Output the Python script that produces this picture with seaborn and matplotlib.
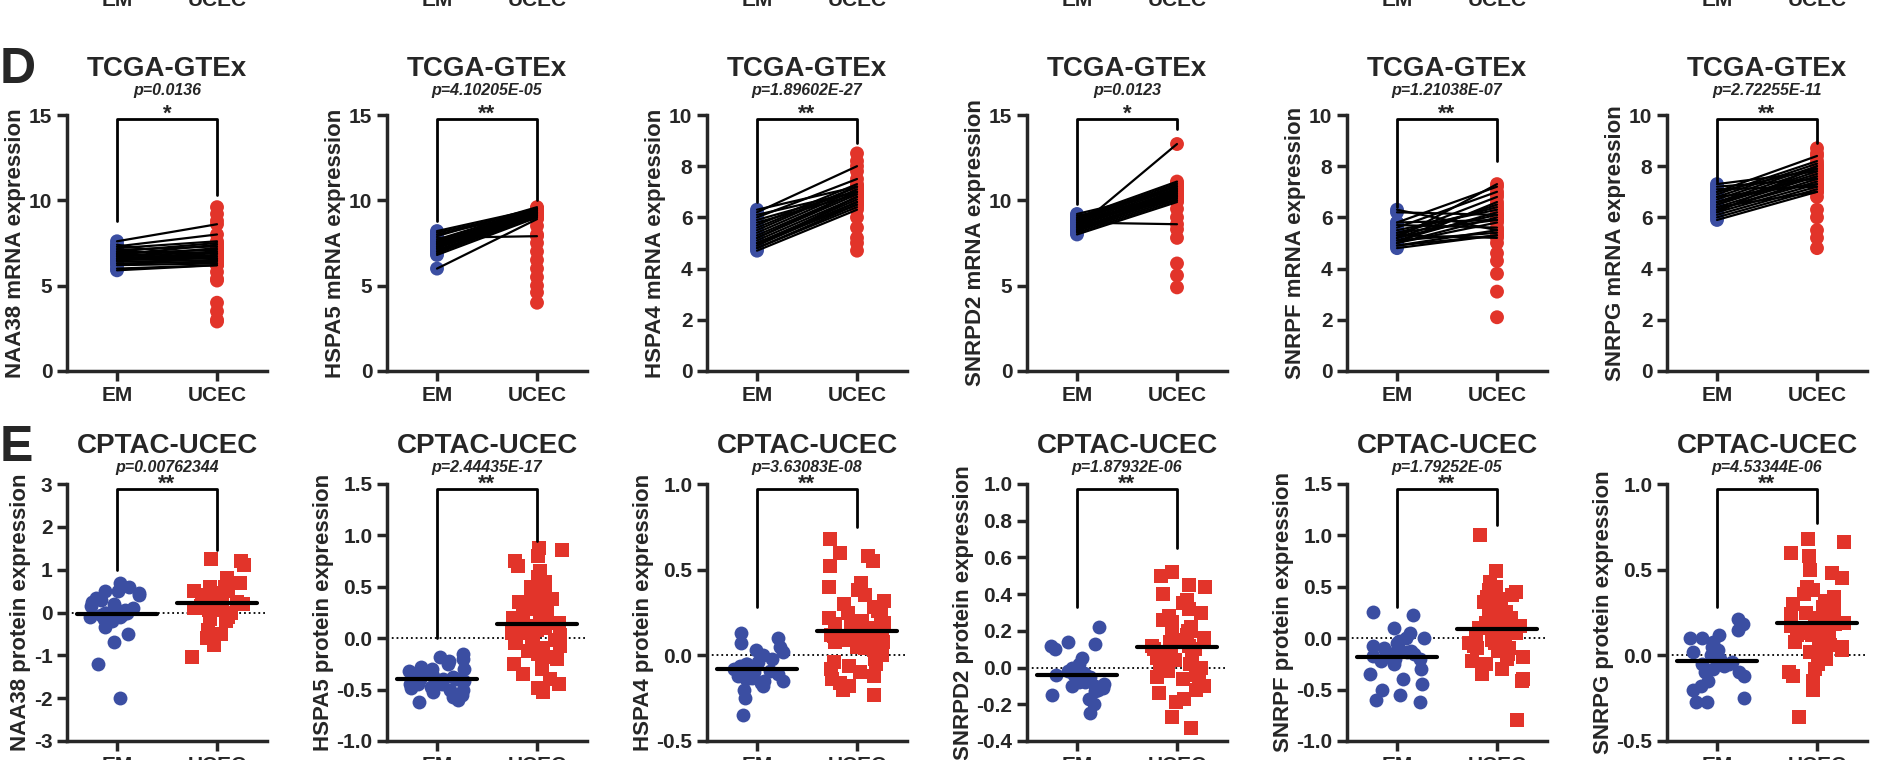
import numpy as np
import pandas as pd
import matplotlib
matplotlib.use('Agg')
import matplotlib.pyplot as plt
import seaborn as sns

sns.set_style('ticks')
plt.rcParams['font.family'] = ['Liberation Sans', 'DejaVu Sans']
plt.rcParams['font.weight'] = 'bold'

BLUE = '#3b4ea2'
RED = '#e2342a'
groups = ['EM', 'UCEC']
genes = ['NAA38', 'HSPA5', 'HSPA4', 'SNRPD2', 'SNRPF', 'SNRPG']

# ---- row D: TCGA-GTEx paired mRNA ----
d_pvals = ['p=0.0136', 'p=4.10205E-05', 'p=1.89602E-27', 'p=0.0123', 'p=1.21038E-07', 'p=2.72255E-11']
d_stars = ['*', '**', '**', '*', '**', '**']
d_ymax = [15, 15, 10, 15, 10, 10]
d_ticks = [[0, 5, 10, 15], [0, 5, 10, 15], [0, 2, 4, 6, 8, 10], [0, 5, 10, 15], [0, 2, 4, 6, 8, 10], [0, 2, 4, 6, 8, 10]]
d_legs = [(8.8, 10.3), (8.8, 10.0), (6.6, 8.9), (9.8, 14.2), (6.4, 8.2), (7.4, 8.9)]

d_em = [
    [6.0, 6.2, 6.3, 6.4, 6.5, 6.5, 6.6, 6.6, 6.7, 6.7, 6.8, 6.8, 6.9, 6.9, 7.0, 7.0, 7.1, 7.2, 7.3, 7.4, 7.6, 5.9],
    [6.0, 6.8, 6.9, 7.0, 7.1, 7.2, 7.2, 7.3, 7.4, 7.4, 7.5, 7.5, 7.6, 7.7, 7.8, 7.9, 8.0, 8.1, 8.2, 7.0, 7.3, 7.6],
    [4.7, 4.8, 4.8, 4.9, 5.0, 5.0, 5.1, 5.2, 5.2, 5.3, 5.4, 5.5, 5.6, 5.7, 5.8, 5.9, 6.0, 6.1, 6.2, 6.3, 5.0, 4.9],
    [8.0, 8.1, 8.2, 8.3, 8.3, 8.4, 8.5, 8.5, 8.6, 8.6, 8.7, 8.8, 8.8, 8.9, 9.0, 9.1, 9.2, 8.4, 8.7, 8.2, 9.0, 8.9],
    [4.8, 4.9, 5.0, 5.0, 5.1, 5.1, 5.2, 5.2, 5.3, 5.3, 5.4, 5.5, 5.6, 5.7, 5.8, 6.2, 6.3, 5.0, 4.9, 5.2, 5.4, 5.8],
    [5.9, 6.0, 6.1, 6.2, 6.3, 6.3, 6.4, 6.5, 6.5, 6.6, 6.7, 6.8, 6.9, 7.0, 7.1, 7.2, 7.3, 6.4, 6.6, 6.2, 6.8, 7.0],
]
d_uc = [
    [6.2, 6.3, 6.4, 6.5, 6.6, 6.8, 6.9, 6.7, 7.0, 7.2, 6.6, 7.4, 7.1, 6.3, 7.5, 6.9, 7.3, 7.6, 8.0, 6.5, 8.6, 6.2],
    [8.9, 9.0, 9.1, 9.2, 9.0, 9.3, 9.1, 9.2, 9.4, 9.3, 9.5, 9.2, 9.4, 9.5, 7.9, 9.6, 9.3, 9.4, 9.5, 9.1, 9.2, 9.3],
    [6.3, 6.4, 6.5, 6.6, 6.6, 6.7, 6.8, 6.9, 7.0, 7.0, 7.1, 7.2, 7.2, 7.3, 6.9, 7.0, 7.5, 7.0, 8.0, 7.2, 6.5, 6.8],
    [9.9, 10.0, 10.1, 10.2, 10.3, 10.3, 10.4, 10.5, 10.5, 10.6, 10.7, 10.8, 10.9, 11.0, 11.1, 10.2, 10.6, 13.3, 8.6, 10.4, 10.8, 10.0],
    [5.3, 5.5, 6.0, 5.8, 6.2, 5.4, 6.5, 6.1, 5.2, 6.8, 5.9, 6.3, 7.0, 5.6, 7.2, 6.1, 5.5, 6.6, 5.3, 7.3, 6.4, 5.9],
    [7.0, 7.1, 7.2, 7.3, 7.4, 7.5, 7.6, 7.7, 7.8, 7.9, 8.0, 8.1, 8.2, 8.4, 7.2, 7.5, 7.8, 7.0, 7.6, 8.0, 7.3, 7.9],
]
d_uc_extra = [
    [9.6, 9.2, 8.8, 5.8, 5.4, 5.3, 4.0, 3.5, 3.0, 2.9],
    [8.5, 8.0, 7.5, 7.0, 6.5, 6.0, 5.5, 5.0, 4.6, 4.0],
    [8.5, 8.2, 7.8, 6.0, 5.6, 5.2, 5.0, 4.7],
    [9.5, 9.0, 8.3, 7.8, 6.3, 5.6, 4.9],
    [6.9, 5.0, 4.6, 4.3, 3.8, 3.1, 2.1],
    [8.7, 8.5, 6.8, 6.3, 6.0, 5.5, 5.2, 4.8],
]

# ---- row E: CPTAC-UCEC protein ----
e_pvals = ['p=0.00762344', 'p=2.44435E-17', 'p=3.63083E-08', 'p=1.87932E-06', 'p=1.79252E-05', 'p=4.53344E-06']
e_ylim = [(-3, 3), (-1, 1.5), (-0.5, 1.0), (-0.4, 1.0), (-1, 1.5), (-0.5, 1.0)]
e_ticks = [[-3, -2, -1, 0, 1, 2, 3], [-1.0, -0.5, 0.0, 0.5, 1.0, 1.5], [-0.5, 0.0, 0.5, 1.0],
           [-0.4, -0.2, 0.0, 0.2, 0.4, 0.6, 0.8, 1.0], [-1.0, -0.5, 0.0, 0.5, 1.0, 1.5], [-0.5, 0.0, 0.5, 1.0]]
e_tickfmt = ['{:.0f}', '{:.1f}', '{:.1f}', '{:.1f}', '{:.1f}', '{:.1f}']
e_legs = [(1.0, 1.45), (0.0, 0.95), (0.28, 0.75), (0.33, 0.65), (0.3, 1.1), (0.28, 0.77)]

e_em = [
    [0.7, 0.6, 0.5, 0.5, 0.45, 0.4, 0.35, 0.3, 0.25, 0.2, 0.15, 0.1, 0.05, 0.0, 0.0, -0.05, -0.1, -0.1, -0.15, -0.2, -0.35, -0.5, -0.7, -1.2, -2.0, 0.1, 0.0, -0.05],
    [-0.15, -0.18, -0.2, -0.22, -0.25, -0.28, -0.3, -0.32, -0.35, -0.37, -0.38, -0.4, -0.4, -0.42, -0.43, -0.45, -0.45, -0.47, -0.48, -0.5, -0.52, -0.55, -0.57, -0.6, -0.62, -0.35, -0.4, -0.45, -0.5, -0.3],
    [0.13, 0.1, 0.07, 0.05, 0.03, 0.0, -0.02, -0.04, -0.05, -0.06, -0.08, -0.09, -0.1, -0.1, -0.11, -0.12, -0.13, -0.14, -0.15, -0.16, -0.18, -0.2, -0.25, -0.35, -0.05, -0.08, -0.12, 0.02, -0.15, -0.1],
    [0.22, 0.14, 0.13, 0.12, 0.1, 0.05, 0.02, 0.0, -0.02, -0.03, -0.04, -0.05, -0.06, -0.07, -0.08, -0.09, -0.1, -0.1, -0.12, -0.13, -0.15, -0.17, -0.2, -0.25, -0.05, -0.08, -0.04, -0.11],
    [0.25, 0.23, 0.1, 0.05, 0.0, -0.03, -0.05, -0.08, -0.1, -0.12, -0.13, -0.15, -0.15, -0.17, -0.18, -0.2, -0.22, -0.25, -0.3, -0.35, -0.4, -0.45, -0.5, -0.55, -0.62, -0.6, -0.1, -0.12, 0.0, -0.2],
    [0.21, 0.18, 0.15, 0.12, 0.1, 0.1, 0.08, 0.05, 0.03, 0.0, -0.02, -0.03, -0.04, -0.05, -0.06, -0.08, -0.1, -0.12, -0.15, -0.18, -0.2, -0.25, -0.27, -0.27, 0.02, -0.05, 0.0, -0.1],
]
e_uc = [
    [1.25, 1.2, 1.1, 0.8, 0.7, 0.7, 0.6, 0.5, 0.5, 0.45, 0.4, 0.4, 0.35, 0.3, 0.3, 0.3, 0.25, 0.25, 0.2, 0.2, 0.2, 0.15, 0.15, 0.1, 0.1, 0.1, 0.05, 0.05, 0.0, 0.0, -0.05, -0.1, -0.15, -0.2, -0.4, -0.5, -0.6, -0.75, -1.05, 0.3, 0.2, 0.1, 0.5, 0.6],
    [0.88, 0.86, 0.8, 0.75, 0.7, 0.65, 0.6, 0.55, 0.5, 0.45, 0.42, 0.4, 0.38, 0.35, 0.3, 0.28, 0.25, 0.22, 0.2, 0.18, 0.15, 0.12, 0.1, 0.1, 0.08, 0.05, 0.03, 0.0, -0.02, -0.05, -0.08, -0.1, -0.12, -0.15, -0.18, -0.2, -0.22, -0.25, -0.3, -0.35, -0.4, -0.45, -0.48, -0.52, 0.2, 0.1, 0.0, -0.1, 0.3, 0.15, 0.05, -0.05, 0.25, -0.15, 0.35],
    [0.68, 0.6, 0.58, 0.55, 0.52, 0.42, 0.4, 0.38, 0.35, 0.32, 0.3, 0.28, 0.26, 0.24, 0.22, 0.2, 0.19, 0.18, 0.16, 0.15, 0.14, 0.13, 0.12, 0.11, 0.1, 0.09, 0.08, 0.07, 0.06, 0.05, 0.04, 0.03, 0.02, 0.0, -0.02, -0.04, -0.06, -0.08, -0.1, -0.12, -0.14, -0.16, -0.18, -0.2, -0.23, 0.1, 0.15, 0.05, 0.2, 0.0, 0.12, 0.08, -0.05, 0.25, 0.18],
    [0.52, 0.5, 0.45, 0.44, 0.4, 0.37, 0.35, 0.32, 0.3, 0.28, 0.26, 0.24, 0.22, 0.2, 0.18, 0.16, 0.15, 0.14, 0.12, 0.1, 0.09, 0.08, 0.07, 0.06, 0.05, 0.04, 0.03, 0.02, 0.0, -0.02, -0.04, -0.06, -0.08, -0.1, -0.12, -0.14, -0.17, -0.19, -0.27, -0.33, 0.1, 0.15, 0.05, 0.2, 0.12, 0.08, 0.0, 0.25, -0.05, 0.18],
    [1.0, 0.65, 0.55, 0.5, 0.47, 0.45, 0.42, 0.4, 0.38, 0.35, 0.3, 0.28, 0.25, 0.22, 0.2, 0.18, 0.15, 0.12, 0.1, 0.08, 0.06, 0.05, 0.03, 0.0, -0.02, -0.05, -0.08, -0.1, -0.12, -0.15, -0.18, -0.2, -0.22, -0.25, -0.3, -0.35, -0.4, -0.42, -0.8, 0.1, 0.05, 0.0, 0.15, -0.05, 0.2, 0.3, -0.1, 0.12],
    [0.68, 0.66, 0.6, 0.58, 0.5, 0.48, 0.45, 0.4, 0.38, 0.36, 0.34, 0.32, 0.3, 0.28, 0.26, 0.24, 0.22, 0.2, 0.19, 0.18, 0.17, 0.16, 0.15, 0.14, 0.13, 0.12, 0.1, 0.08, 0.06, 0.05, 0.03, 0.02, 0.0, -0.02, -0.05, -0.08, -0.1, -0.12, -0.15, -0.2, -0.36, 0.15, 0.2, 0.1, 0.25, 0.12, 0.18, 0.05, 0.3, 0.22],
]

W, H = 1880, 760
fig = plt.figure(figsize=(W / 100, H / 100), dpi=100)
lefts = [67, 387, 707, 1027, 1347, 1667]
axw = 200


def px_axes(left, top, bottom):
    return fig.add_axes([left / W, 1 - bottom / H, axw / W, (bottom - top) / H])


def style(ax, ylabel):
    ax.set_xlim(-0.5, 1.5)
    sns.despine(ax=ax)
    for s in ['left', 'bottom']:
        ax.spines[s].set_linewidth(2.5)
    ax.tick_params(width=2.5, length=7, labelsize=15)
    ax.set_xticks([0, 1])
    ax.set_xticklabels(groups, fontweight='bold')
    ax.set_xlabel('')
    ax.set_ylabel(ylabel, fontsize=16, fontweight='bold', labelpad=2)


def bracket(ax, top, legs, star):
    ax.plot([0, 0, 1, 1], [legs[0], top, top, legs[1]], color='black', lw=2, clip_on=False)
    ax.annotate(star, xy=(0.5, top), xytext=(0, -4), textcoords='offset points',
                ha='center', va='bottom', fontsize=16, fontweight='bold')


# cut-off labels of the row above
for left in lefts:
    for i, g in enumerate(groups):
        fig.text((left + axw * (0.25 + 0.5 * i)) / W, 1.0, g, ha='center', va='center',
                 fontsize=15, fontweight='bold')

fig.text(0.0, 1 - 70 / H, 'D', fontsize=36, fontweight='bold', va='center')
fig.text(0.0, 1 - 448 / H, 'E', fontsize=36, fontweight='bold', va='center')

for k in range(6):
    # row D
    ax = px_axes(lefts[k], 115, 371)
    em, uc = d_em[k], d_uc[k]
    for a, b in zip(em, uc):
        ax.plot([0, 1], [a, b], color='black', lw=1.6, zorder=3)
    df = pd.DataFrame({'group': ['EM'] * len(em) + ['UCEC'] * (len(uc) + len(d_uc_extra[k])),
                       'value': em + uc + d_uc_extra[k]})
    sns.stripplot(data=df, x='group', y='value', hue='group', order=groups,
                  palette={'EM': BLUE, 'UCEC': RED}, jitter=False, size=10, legend=False,
                  ax=ax, zorder=2)
    ax.set_ylim(0, d_ymax[k])
    ax.set_yticks(d_ticks[k])
    ax.set_yticklabels([str(t) for t in d_ticks[k]], fontweight='bold')
    style(ax, f'{genes[k]} mRNA expression')
    bracket(ax, d_ymax[k] * 0.985, d_legs[k], d_stars[k])
    ax.set_title('TCGA-GTEx', fontsize=20, fontweight='bold', pad=28)
    ax.text(0.5, 1.065, d_pvals[k], transform=ax.transAxes, ha='center', va='bottom',
            fontsize=11.5, fontweight='bold', style='italic')

    # row E
    ax = px_axes(lefts[k], 484, 741)
    df = pd.DataFrame({'group': ['EM'] * len(e_em[k]) + ['UCEC'] * len(e_uc[k]),
                       'value': e_em[k] + e_uc[k]})
    np.random.seed(3 + k)
    sns.stripplot(data=df[df.group == 'EM'], x='group', y='value', order=groups, color=BLUE,
                  marker='o', size=10, jitter=0.28, ax=ax, zorder=2)
    sns.stripplot(data=df[df.group == 'UCEC'], x='group', y='value', order=groups, color=RED,
                  marker='s', size=10, jitter=0.28, ax=ax, zorder=2)
    ax.axhline(0, color='black', lw=1.3, ls=':', zorder=1)
    means = df.groupby('group')['value'].mean()
    for i, g in enumerate(groups):
        ax.plot([i - 0.4, i + 0.4], [means[g], means[g]], color='black', lw=3, zorder=4)
    lo, hi = e_ylim[k]
    ax.set_ylim(lo, hi)
    ax.set_yticks(e_ticks[k])
    ax.set_yticklabels([e_tickfmt[k].format(t) for t in e_ticks[k]], fontweight='bold')
    style(ax, f'{genes[k]} protein expression')
    span = hi - lo
    bracket(ax, hi - span * 0.02, e_legs[k], '**')
    ax.set_title('CPTAC-UCEC', fontsize=20, fontweight='bold', pad=22)
    ax.text(0.5, 1.035, e_pvals[k], transform=ax.transAxes, ha='center', va='bottom',
            fontsize=11.5, fontweight='bold', style='italic')

fig.savefig('out.png', dpi=100)
